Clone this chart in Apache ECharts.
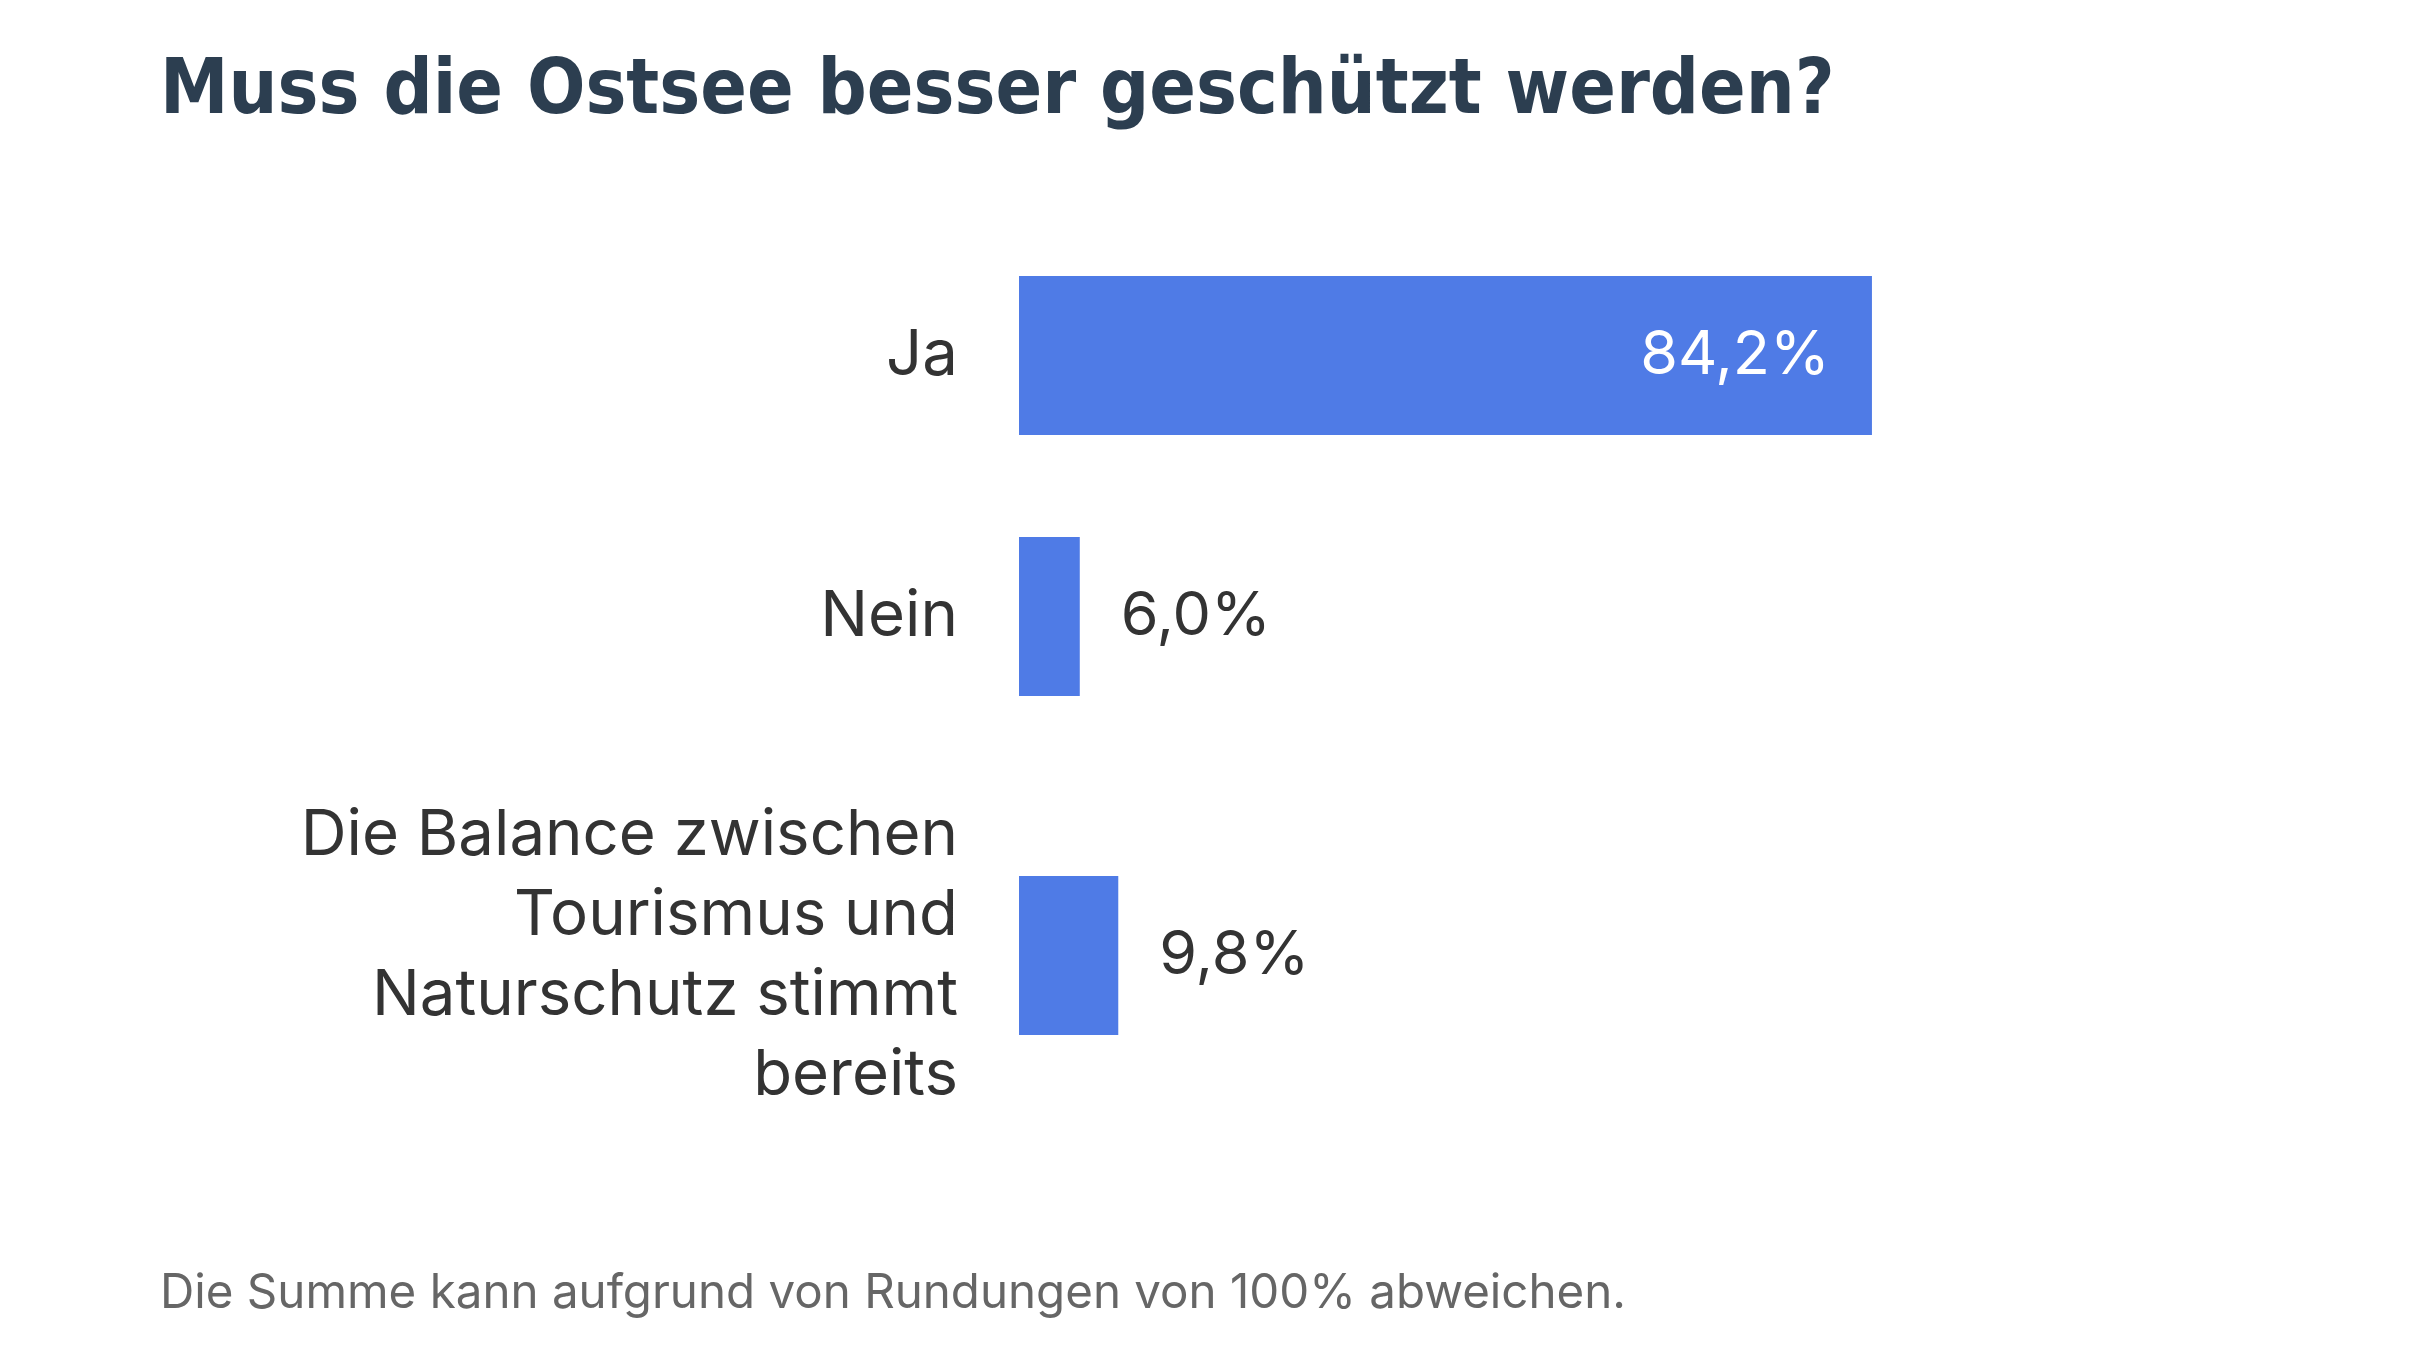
<!DOCTYPE html>
<html>
<head>
<meta charset="utf-8">
<script src="https://cdn.jsdelivr.net/npm/echarts@6/dist/echarts.min.js"></script>
<style>
  html, body { margin: 0; padding: 0; background: #fff; }
  #chart { width: 2432px; height: 1368px; }
</style>
</head>
<body>
<div id="chart"></div>
<script>
// Antworten und Anteile in Prozent
const categories = ['Ja', 'Nein', 'Die Balance zwischen\nTourismus und\nNaturschutz stimmt\nbereits'];
const values = [84.2, 6.0, 9.8];
const titleText = 'Muss die Ostsee besser geschützt werden?';
const noteText = 'Die Summe kann aufgrund von Rundungen von 100% abweichen.';

// Layout je Balken (eigene Grids, da die Zeilenabstände ungleich sind)
const gridTops = [276, 537, 876];
const barHeight = 159;
const barColor = '#4f7be6';

const chart = echarts.init(document.getElementById('chart'));

const fmt = v => v.toFixed(1).replace('.', ',') + '%';

const grids = [], xAxes = [], yAxes = [], series = [];
categories.forEach((cat, i) => {
  grids.push({ left: 1019, width: 1013, top: gridTops[i], height: barHeight });
  xAxes.push({
    gridIndex: i, type: 'value', min: 0, max: 100, show: false
  });
  yAxes.push({
    gridIndex: i, type: 'category', data: [cat],
    axisLine: { show: false }, axisTick: { show: false },
    axisLabel: {
      margin: 61, fontSize: 63.5, lineHeight: 80, color: '#333',
      fontFamily: 'Inter', align: 'right',
      backgroundColor: 'rgba(255,255,255,0)', padding: [10, 0, 0, 0]
    }
  });
  const inside = values[i] > 50;
  series.push({
    type: 'bar', xAxisIndex: i, yAxisIndex: i,
    data: [values[i]], barWidth: '100%',
    itemStyle: { color: barColor },
    label: {
      show: true,
      position: inside ? 'insideRight' : 'right',
      distance: inside ? 42 : 41,
      color: inside ? '#fff' : '#333',
      fontSize: 61, fontFamily: 'Inter',
      backgroundColor: 'rgba(255,255,255,0)', padding: [9, 0, 0, 0],
      formatter: p => fmt(p.value)
    },
    silent: true
  });
});

chart.setOption({
  backgroundColor: '#fff',
  animation: false,
  title: [
    {
      text: titleText, left: 155, top: 50,
      textStyle: { fontFamily: 'DejaVu Sans Condensed', fontWeight: 'bold', fontSize: 76.5, color: '#2c3e50' }
    },
    {
      text: noteText, left: 155, top: 1265,
      textStyle: { fontFamily: 'Inter', fontWeight: 'normal', fontSize: 47.5, color: '#666' }
    }
  ],
  grid: grids,
  xAxis: xAxes,
  yAxis: yAxes,
  series: series
});
</script>
</body>
</html>
